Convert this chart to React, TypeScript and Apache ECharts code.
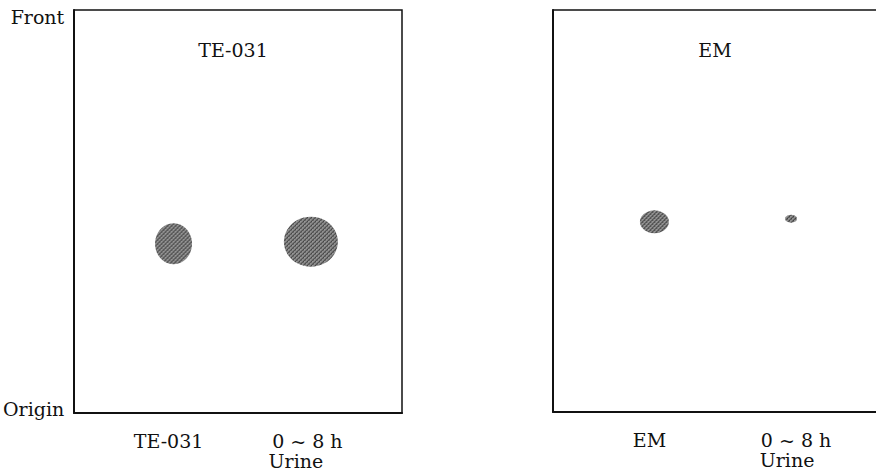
import React, { useEffect, useRef } from "react";
import * as echarts from "echarts";

// Plate names (titles inside plates)
const plateTitles = ["TE-031", "EM"];
// Lane labels under each plate: [first line, second line]
const laneLabels = [
  [["TE-031", ""], ["0 ~ 8 h", "Urine"]],
  [["EM", ""], ["0 ~ 8 h", "Urine"]],
];
// Lane positions across the plate (fraction of plate width)
const lanePositions = [
  [0.303, 0.722],
  [0.314, 0.737],
];
// Rf values of the spots (0 = origin, 1 = solvent front)
const spotRf = [
  [0.42, 0.425],
  [0.473, 0.481],
];
// Spot extents [width, height] in px
const spotSizes = [
  [[37, 41], [54, 50]],
  [[29, 23], [12, 8]],
];
const yTickValues = [0, 1];
const yTickLabels = ["Origin", "Front"];

const FONT = "DejaVu Serif";
const FS = 19;

function makePattern(): HTMLCanvasElement {
  const c = document.createElement("canvas");
  c.width = 4;
  c.height = 4;
  const ctx = c.getContext("2d")!;
  ctx.fillStyle = "#8e8e8e";
  ctx.fillRect(0, 0, 4, 4);
  ctx.fillStyle = "#262626";
  for (let k = 0; k < 4; k++) {
    ctx.fillRect(k, 3 - k, 1, 1);
  }
  ctx.fillStyle = "#4e4e4e";
  ctx.fillRect(0, 0, 1, 1);
  ctx.fillRect(2, 2, 1, 1);
  return c;
}

export default function App() {
  const ref = useRef<HTMLDivElement>(null);
  useEffect(() => {
    if (!ref.current) return;
    const chart = echarts.init(ref.current, null, { renderer: "svg" });
    const pattern = makePattern();
    const grids = [
      { left: 71, top: 10, width: 331, height: 403 },
      { left: 553, top: 10, width: 323, height: 402 },
    ];
    // fine shifts of label lines (styling only): [padLeft, padRight] in px
    const labelPad = [
      [[[0, 10], [0, 0]], [[0, 7], [0, 30]]],
      [[[0, 10], [0, 0]], [[10, 0], [0, 8]]],
    ];
    const titleCenters = [228, 710];
    const txt = { fontFamily: FONT, fontSize: FS, color: "#111", lineHeight: 20 };
    const option: any = {
      animation: false,
      backgroundColor: "#ffffff",
      title: plateTitles.map((t, i) => ({
        text: t,
        left: titleCenters[i],
        top: 35,
        textAlign: "center",
        textStyle: { fontFamily: FONT, fontSize: FS, fontWeight: "normal", color: "#111" },
      })),
      grid: grids.map((g, i) => ({
        ...g,
        show: i === 0,
        borderColor: "#111",
        borderWidth: 1.5,
        backgroundColor: "transparent",
      })),
      xAxis: [
        ...grids.map((_, i) => ({
          type: "value",
          gridIndex: i,
          min: 0,
          max: 1,
          axisLine: { show: true, lineStyle: { color: "#111", width: 2 } },
          axisTick: { show: false },
          splitLine: { show: false },
          axisLabel: {
            show: true,
            customValues: lanePositions[i],
            formatter: (v: number) => {
              const idx = lanePositions[i].findIndex((p) => Math.abs(p - v) < 1e-6);
              if (idx < 0) return "";
              const [a, b] = laneLabels[i][idx];
              const first = `{a${idx}|${a}}`;
              return b ? `${first}\n{b${idx}|${b}}` : first;
            },
            margin: 18,
            ...txt,
            rich: {
              a0: { ...txt, padding: [0, labelPad[i][0][0][1], 0, labelPad[i][0][0][0]] },
              b0: { ...txt, padding: [0, labelPad[i][0][1][1], 0, labelPad[i][0][1][0]] },
              a1: { ...txt, padding: [0, labelPad[i][1][0][1], 0, labelPad[i][1][0][0]] },
              b1: { ...txt, padding: [0, labelPad[i][1][1][1], 0, labelPad[i][1][1][0]] },
            },
          },
        })),
        {
          type: "value",
          gridIndex: 1,
          position: "top",
          min: 0,
          max: 1,
          axisLine: { show: true, lineStyle: { color: "#111", width: 1.5 } },
          axisTick: { show: false },
          splitLine: { show: false },
          axisLabel: { show: false },
        },
      ],
      yAxis: grids.map((_, i) => ({
        type: "value",
        gridIndex: i,
        min: 0,
        max: 1,
        axisLine: { show: true, lineStyle: { color: "#111", width: 2 } },
        axisTick: { show: false },
        splitLine: { show: false },
        axisLabel: {
          show: i === 0,
          customValues: yTickValues,
          formatter: (v: number) => {
            const idx = yTickValues.findIndex((p) => Math.abs(p - v) < 1e-6);
            if (idx < 0) return "";
            return `{${idx === 0 ? "o" : "f"}|${yTickLabels[idx]}}`;
          },
          margin: 10,
          fontFamily: FONT,
          fontSize: FS,
          color: "#111",
          verticalAlign: "middle",
          rich: {
            f: { fontFamily: FONT, fontSize: FS, color: "#111", padding: [14, 0, 0, 0] },
            o: { fontFamily: FONT, fontSize: FS, color: "#111", padding: [0, 0, 8, 0] },
          },
        },
      })),
      series: grids.flatMap((_, i) =>
        lanePositions[i].map((x, j) => {
          const [w, h] = spotSizes[i][j];
          return {
            type: "scatter",
            xAxisIndex: i,
            yAxisIndex: i,
            symbol: "circle",
            symbolSize: [w, h],
            data: [[x, spotRf[i][j]]],
            itemStyle: {
              color: { image: pattern, repeat: "repeat", scaleX: 2 / w, scaleY: 2 / h },
              opacity: 0.95,
            },
            silent: true,
          };
        })
      ),
    };
    chart.setOption(option);
    return () => chart.dispose();
  }, []);
  return (
    <div
      ref={ref}
      style={{ position: "absolute", left: 0, top: 0, width: 876, height: 475 }}
    />
  );
}
